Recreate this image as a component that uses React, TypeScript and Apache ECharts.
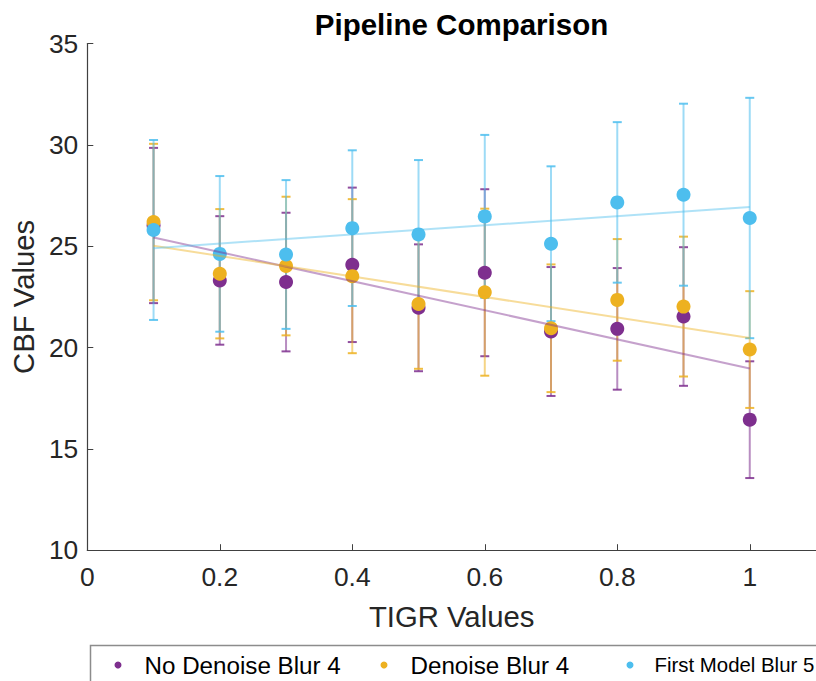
import React, { useEffect, useRef } from "react";
import * as echarts from "echarts";

const tigr = [0.1, 0.2, 0.3, 0.4, 0.5, 0.6, 0.7, 0.8, 0.9, 1.0];
const seriesNames = ["No Denoise Blur 4", "Denoise Blur 4", "First Model Blur 5"];
const noDenoiseMean = [26.02, 23.31, 23.23, 24.08, 21.96, 23.69, 20.79, 20.92, 21.53, 16.44];
const noDenoiseErr = [3.83, 3.17, 3.42, 3.81, 3.13, 4.12, 3.18, 3.0, 3.42, 2.88];
const denoiseMean = [26.19, 23.64, 24.02, 23.52, 22.15, 22.73, 20.95, 22.35, 22.02, 19.9];
const denoiseErr = [3.86, 3.19, 3.42, 3.8, 3.2, 4.12, 3.15, 3.0, 3.45, 2.88];
const firstModelMean = [25.8, 24.62, 24.59, 25.89, 25.58, 26.47, 25.12, 27.16, 27.54, 26.39];
const firstModelErr = [4.44, 3.84, 3.67, 3.84, 3.67, 4.02, 3.82, 3.96, 4.49, 5.93];
const colors = ["#7E2F8E", "#EDB120", "#4DBEEE"];
const yTicks = [10, 15, 20, 25, 30, 35];
const xTicks = [0, 0.2, 0.4, 0.6, 0.8, 1];

const FONT = "'Liberation Sans', Arial, Helvetica, sans-serif";

function linFit(xs: number[], ys: number[]) {
  const n = xs.length;
  const mx = xs.reduce((a, b) => a + b, 0) / n;
  const my = ys.reduce((a, b) => a + b, 0) / n;
  let sxy = 0, sxx = 0;
  for (let i = 0; i < n; i++) {
    sxy += (xs[i] - mx) * (ys[i] - my);
    sxx += (xs[i] - mx) * (xs[i] - mx);
  }
  const b = sxy / sxx;
  const a = my - b * mx;
  return [xs[0], xs[n - 1]].map((x) => [x, a + b * x]);
}

export default function App() {
  const ref = useRef<HTMLDivElement>(null);
  useEffect(() => {
    if (!ref.current) return;
    const chart = echarts.init(ref.current, null, { renderer: "svg" });
    const means = [noDenoiseMean, denoiseMean, firstModelMean];
    const errs = [noDenoiseErr, denoiseErr, firstModelErr];
    const series: any[] = [];
    means.forEach((m, k) => {
      const color = colors[k];
      series.push({
        type: "custom",
        name: seriesNames[k] + " error",
        data: tigr.map((x, i) => [x, m[i], errs[k][i]]),
        encode: { x: 0, y: 1 },
        silent: true,
        renderItem: (params: any, api: any) => {
          const x = api.value(0);
          const mv = api.value(1);
          const e = api.value(2);
          const top = api.coord([x, mv + e]);
          const bot = api.coord([x, mv - e]);
          const hw = 4.5;
          return {
            type: "group",
            children: [
              {
                type: "line",
                shape: { x1: top[0], y1: top[1], x2: bot[0], y2: bot[1] },
                style: { stroke: color, lineWidth: 2, opacity: 0.55 },
              },
              {
                type: "line",
                shape: { x1: top[0] - hw, y1: top[1], x2: top[0] + hw, y2: top[1] },
                style: { stroke: color, lineWidth: 2, opacity: 0.85 },
              },
              {
                type: "line",
                shape: { x1: bot[0] - hw, y1: bot[1], x2: bot[0] + hw, y2: bot[1] },
                style: { stroke: color, lineWidth: 2, opacity: 0.85 },
              },
            ],
          };
        },
      });
      series.push({
        type: "scatter",
        name: seriesNames[k],
        data: tigr.map((x, i) => [x, m[i]]),
        symbol: "circle",
        symbolSize: 14,
        itemStyle: { color, opacity: 1 },
      });
    });
    means.forEach((m, k) => {
      series.push({
        type: "line",
        name: seriesNames[k] + " fit",
        data: linFit(tigr, m),
        symbol: "none",
        silent: true,
        lineStyle: { color: colors[k], width: 2, opacity: 0.45 },
        z: 3,
      });
    });

    const legendLefts = [114.5, 380.5, 626.5];
    const legendFonts = [24.2, 24.2, 20.4];
    const legendPads = [18, 18, 16];
    const legends = seriesNames.map((n, k) => ({
      data: [n],
      left: legendLefts[k],
      top: 653,
      padding: 0,
      icon: "circle",
      itemWidth: 7,
      itemHeight: 7,
      selectedMode: false,
      textStyle: {
        fontFamily: FONT,
        fontSize: legendFonts[k],
        color: "#000",
        padding: [0, 0, 0, legendPads[k]],
        lineHeight: 24,
      },
    }));

    chart.setOption({
      animation: false,
      backgroundColor: "#fff",
      color: colors,
      title: {
        text: "Pipeline Comparison",
        left: 456.5,
        textAlign: "center",
        top: 4,
        textStyle: { fontFamily: FONT, fontSize: 29.5, fontWeight: "bold", color: "#000" },
      },
      legend: legends,
      grid: { left: 87.3, top: 43.5, width: 737.4, height: 506.7, containLabel: false },
      xAxis: {
        type: "value",
        min: 0,
        max: 1.1,
        interval: 0.2,
        name: "TIGR Values",
        nameLocation: "middle",
        nameGap: 52,
        nameTextStyle: { fontFamily: FONT, fontSize: 29.3, color: "#262626" },
        axisLine: { show: true, lineStyle: { color: "#404040", width: 1.2 } },
        axisTick: { show: true, inside: true, length: 6, lineStyle: { color: "#404040" } },
        splitLine: { show: false },
        axisLabel: {
          fontFamily: FONT,
          fontSize: 26.4,
          color: "#262626",
          margin: 14,
          showMaxLabel: false,
          formatter: (v: number) => {
            const r = Math.round(v * 10) / 10;
            return xTicks.includes(r) ? String(r) : "";
          },
        },
      },
      yAxis: {
        type: "value",
        min: yTicks[0],
        max: yTicks[yTicks.length - 1],
        interval: 5,
        name: "CBF Values",
        nameLocation: "middle",
        nameGap: 44,
        nameTextStyle: { fontFamily: FONT, fontSize: 29.3, color: "#262626" },
        axisLine: { show: true, lineStyle: { color: "#404040", width: 1.2 } },
        axisTick: { show: true, inside: true, length: 6, lineStyle: { color: "#404040" } },
        splitLine: { show: false },
        axisLabel: { fontFamily: FONT, fontSize: 26.4, color: "#262626", margin: 9 },
      },
      graphic: [
        {
          type: "rect",
          shape: { x: 90.5, y: 645.5, width: 780, height: 60 },
          style: { fill: "none", stroke: "#8c8c8c", lineWidth: 1.5 },
          silent: true,
        },
      ],
      series,
    });
    return () => chart.dispose();
  }, []);
  return (
    <div
      ref={ref}
      style={{ position: "fixed", left: 0, top: 0, width: 816, height: 681, background: "#fff" }}
    />
  );
}
